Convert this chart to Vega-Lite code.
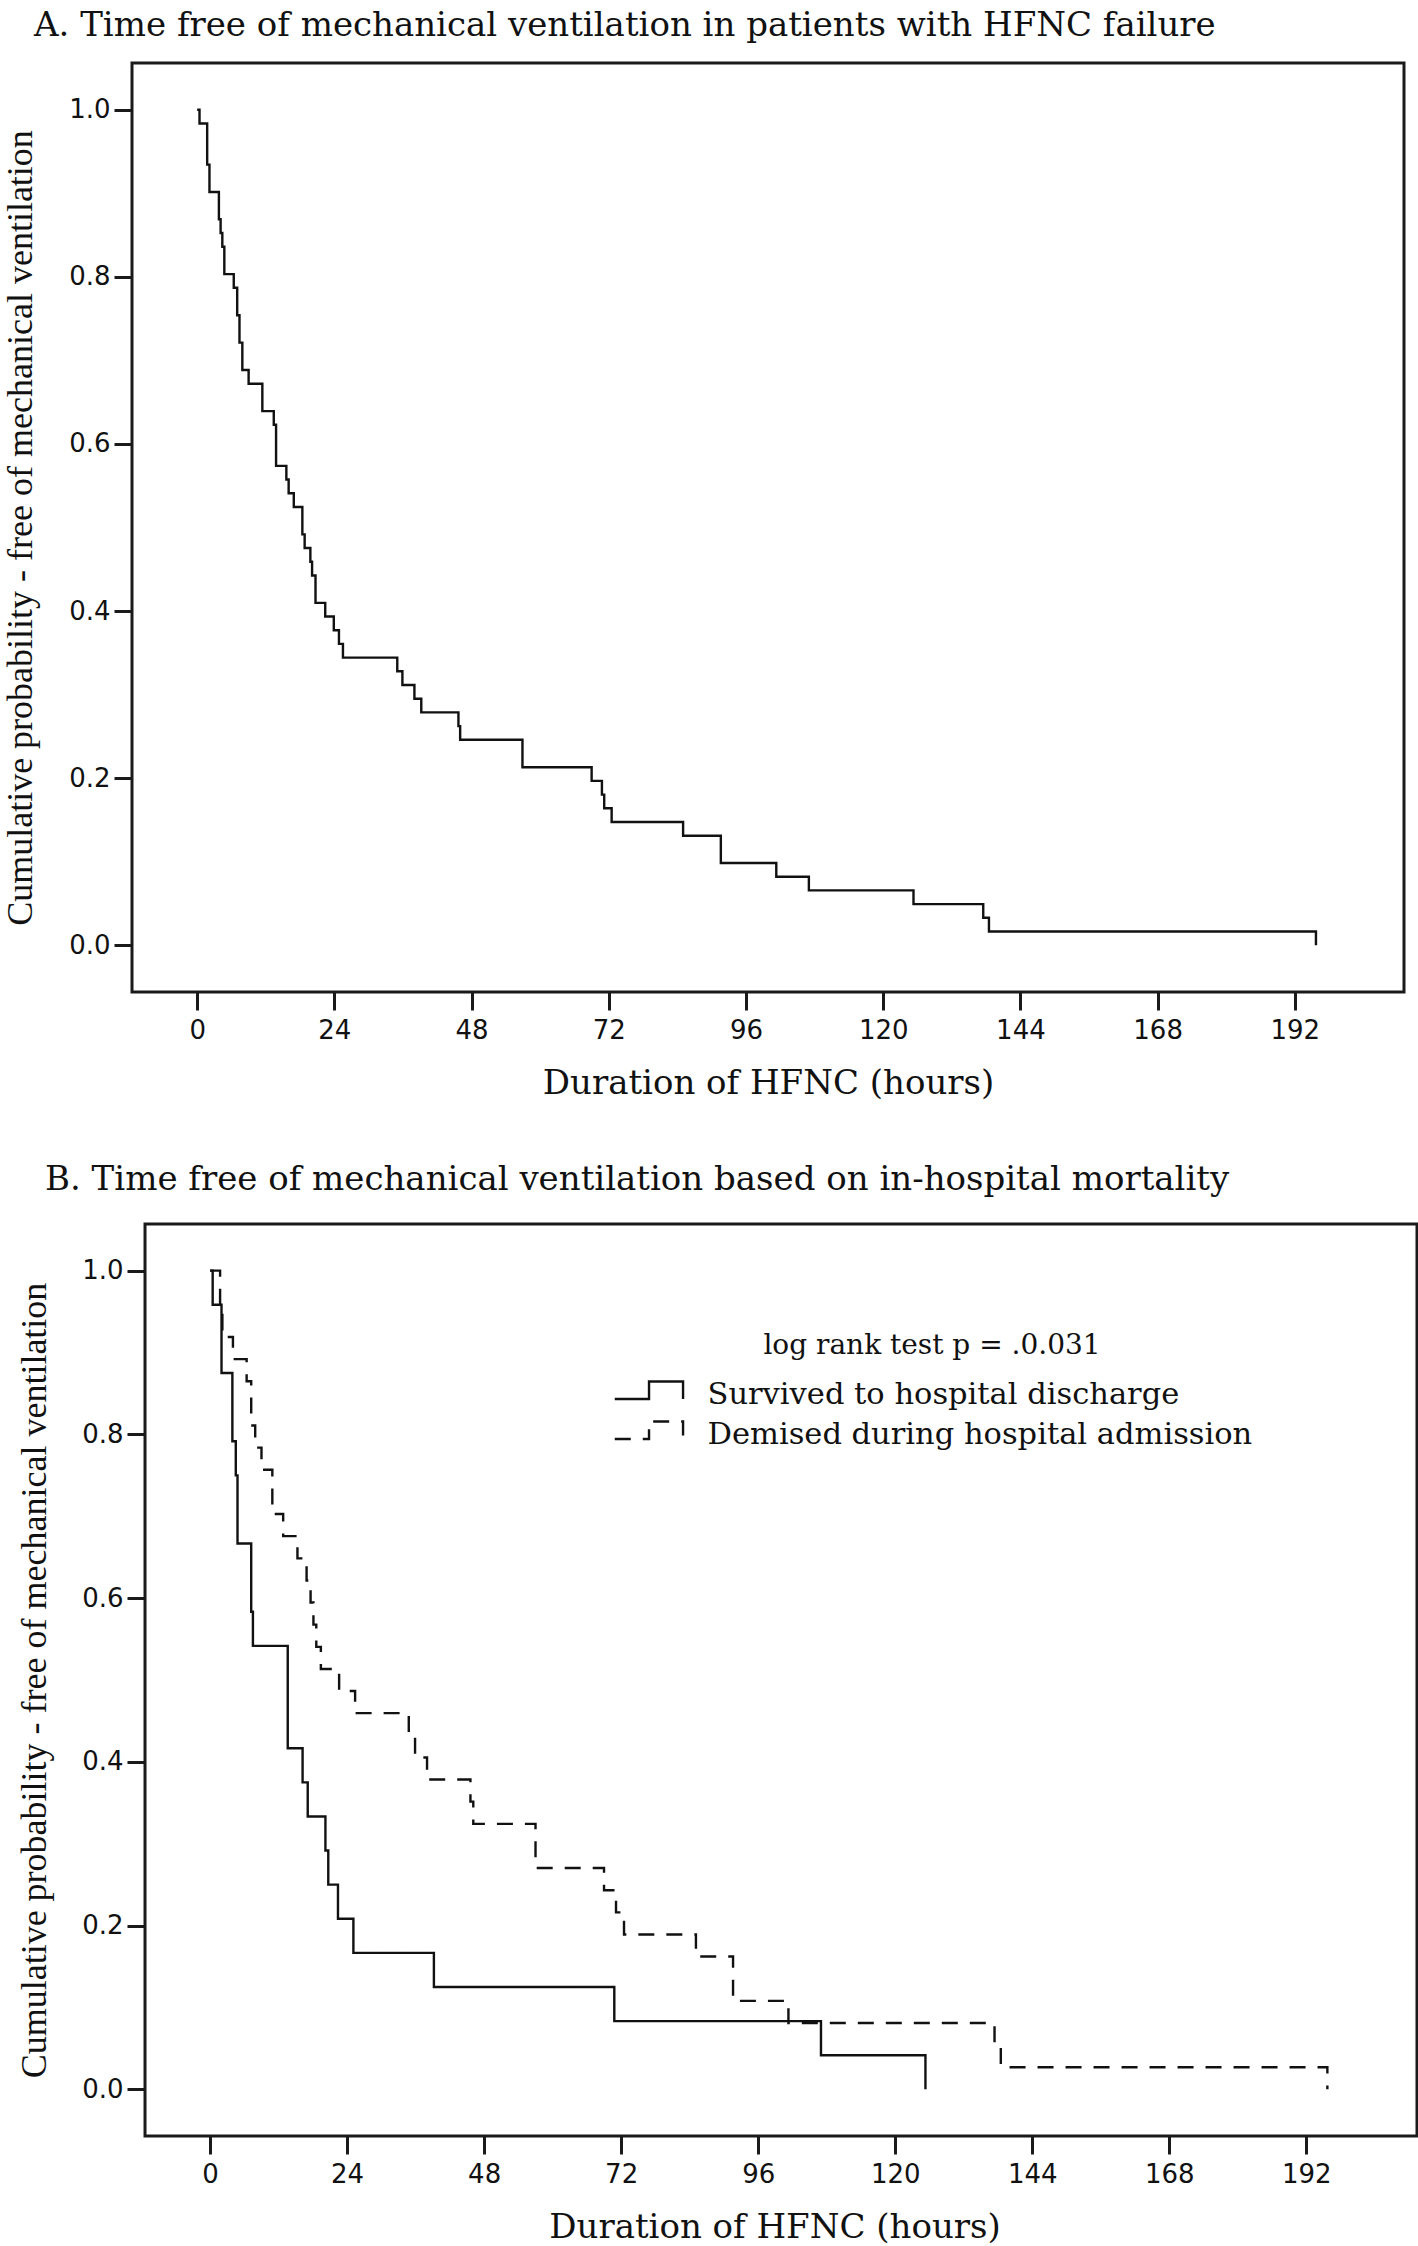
{
  "$schema": "https://vega.github.io/schema/vega-lite/v6.json",
  "background": "white",
  "padding": {"left": 1, "top": 7, "right": 0, "bottom": 0},
  "autosize": {"type": "pad"},
  "config": {
    "view": {"stroke": "#1a1a1a", "strokeWidth": 3},
    "axis": {
      "domain": false, "grid": false,
      "tickSize": 18, "tickWidth": 3, "tickColor": "#1a1a1a",
      "labelFont": "DejaVu Sans", "labelFontSize": 26, "labelColor": "#111",
      "titleFont": "DejaVu Serif", "titleFontWeight": "normal", "titleColor": "#111"
    },
    "axisX": {"labelPadding": 7, "titleFontSize": 34, "titlePadding": 23},
    "axisY": {"labelPadding": 4, "titleFont": "Liberation Serif", "titleFontSize": 36},
    "title": {"font": "DejaVu Serif", "fontSize": 34, "fontWeight": "normal", "color": "#111", "anchor": "start", "frame": "group", "baseline": "alphabetic"}
  },
  "datasets": {
    "a": [
      {"t": 0, "s": 1.0}, {"t": 0.41, "s": 0.9836}, {"t": 1.75, "s": 0.9344}, {"t": 2.15, "s": 0.9016},
      {"t": 3.8, "s": 0.8689}, {"t": 4.1, "s": 0.8525}, {"t": 4.4, "s": 0.8361}, {"t": 4.75, "s": 0.8033},
      {"t": 6.4, "s": 0.7869}, {"t": 7.0, "s": 0.7541}, {"t": 7.4, "s": 0.7213}, {"t": 7.9, "s": 0.6885},
      {"t": 9.0, "s": 0.6721}, {"t": 11.4, "s": 0.6393}, {"t": 13.4, "s": 0.623}, {"t": 13.8, "s": 0.5738},
      {"t": 15.6, "s": 0.5574}, {"t": 16.0, "s": 0.541}, {"t": 16.9, "s": 0.5246}, {"t": 18.4, "s": 0.4918},
      {"t": 18.8, "s": 0.4754}, {"t": 19.8, "s": 0.459}, {"t": 20.1, "s": 0.4426}, {"t": 20.7, "s": 0.4098},
      {"t": 22.4, "s": 0.3934}, {"t": 23.9, "s": 0.377}, {"t": 24.8, "s": 0.3607}, {"t": 25.5, "s": 0.3443},
      {"t": 35.0, "s": 0.3279}, {"t": 35.9, "s": 0.3115}, {"t": 38.0, "s": 0.2951}, {"t": 39.2, "s": 0.2787},
      {"t": 45.7, "s": 0.2623}, {"t": 46.0, "s": 0.2459}, {"t": 56.9, "s": 0.2131}, {"t": 69.0, "s": 0.1967},
      {"t": 70.8, "s": 0.1803}, {"t": 71.2, "s": 0.1639}, {"t": 72.5, "s": 0.1475}, {"t": 85.0, "s": 0.1311},
      {"t": 91.6, "s": 0.0984}, {"t": 101.3, "s": 0.082}, {"t": 107.0, "s": 0.0656}, {"t": 125.3, "s": 0.0492},
      {"t": 137.5, "s": 0.0328}, {"t": 138.5, "s": 0.0164}, {"t": 195.7, "s": 0.0}
    ],
    "b": [
      {"group": "Survived to hospital discharge", "t": 0, "s": 1.0},
      {"group": "Survived to hospital discharge", "t": 0.45, "s": 0.9583},
      {"group": "Survived to hospital discharge", "t": 2.0, "s": 0.875},
      {"group": "Survived to hospital discharge", "t": 3.9, "s": 0.7917},
      {"group": "Survived to hospital discharge", "t": 4.5, "s": 0.75},
      {"group": "Survived to hospital discharge", "t": 4.8, "s": 0.6667},
      {"group": "Survived to hospital discharge", "t": 7.2, "s": 0.5833},
      {"group": "Survived to hospital discharge", "t": 7.5, "s": 0.5417},
      {"group": "Survived to hospital discharge", "t": 13.6, "s": 0.4167},
      {"group": "Survived to hospital discharge", "t": 16.2, "s": 0.375},
      {"group": "Survived to hospital discharge", "t": 17.1, "s": 0.3333},
      {"group": "Survived to hospital discharge", "t": 20.2, "s": 0.2917},
      {"group": "Survived to hospital discharge", "t": 20.7, "s": 0.25},
      {"group": "Survived to hospital discharge", "t": 22.4, "s": 0.2083},
      {"group": "Survived to hospital discharge", "t": 25.1, "s": 0.1667},
      {"group": "Survived to hospital discharge", "t": 39.2, "s": 0.125},
      {"group": "Survived to hospital discharge", "t": 70.8, "s": 0.0833},
      {"group": "Survived to hospital discharge", "t": 107.0, "s": 0.0417},
      {"group": "Survived to hospital discharge", "t": 125.3, "s": 0.0},
      {"group": "Demised during hospital admission", "t": 0, "s": 1.0},
      {"group": "Demised during hospital admission", "t": 1.75, "s": 0.9459},
      {"group": "Demised during hospital admission", "t": 2.15, "s": 0.9189},
      {"group": "Demised during hospital admission", "t": 4.0, "s": 0.8919},
      {"group": "Demised during hospital admission", "t": 6.4, "s": 0.8649},
      {"group": "Demised during hospital admission", "t": 7.2, "s": 0.8108},
      {"group": "Demised during hospital admission", "t": 7.9, "s": 0.7838},
      {"group": "Demised during hospital admission", "t": 9.0, "s": 0.7568},
      {"group": "Demised during hospital admission", "t": 10.9, "s": 0.7027},
      {"group": "Demised during hospital admission", "t": 12.8, "s": 0.6757},
      {"group": "Demised during hospital admission", "t": 15.3, "s": 0.6486},
      {"group": "Demised during hospital admission", "t": 16.9, "s": 0.6216},
      {"group": "Demised during hospital admission", "t": 17.6, "s": 0.5946},
      {"group": "Demised during hospital admission", "t": 18.1, "s": 0.5676},
      {"group": "Demised during hospital admission", "t": 18.6, "s": 0.5405},
      {"group": "Demised during hospital admission", "t": 19.4, "s": 0.5135},
      {"group": "Demised during hospital admission", "t": 22.6, "s": 0.4865},
      {"group": "Demised during hospital admission", "t": 25.4, "s": 0.4595},
      {"group": "Demised during hospital admission", "t": 34.8, "s": 0.4324},
      {"group": "Demised during hospital admission", "t": 35.9, "s": 0.4054},
      {"group": "Demised during hospital admission", "t": 38.0, "s": 0.3784},
      {"group": "Demised during hospital admission", "t": 45.6, "s": 0.3514},
      {"group": "Demised during hospital admission", "t": 46.1, "s": 0.3243},
      {"group": "Demised during hospital admission", "t": 57.0, "s": 0.2703},
      {"group": "Demised during hospital admission", "t": 69.0, "s": 0.2432},
      {"group": "Demised during hospital admission", "t": 71.1, "s": 0.2162},
      {"group": "Demised during hospital admission", "t": 72.5, "s": 0.1892},
      {"group": "Demised during hospital admission", "t": 85.1, "s": 0.1622},
      {"group": "Demised during hospital admission", "t": 91.6, "s": 0.1081},
      {"group": "Demised during hospital admission", "t": 101.3, "s": 0.0811},
      {"group": "Demised during hospital admission", "t": 137.4, "s": 0.0541},
      {"group": "Demised during hospital admission", "t": 138.5, "s": 0.027},
      {"group": "Demised during hospital admission", "t": 195.7, "s": 0.0}
    ]
  },
  "vconcat": [
    {
      "width": 1272, "height": 929,
      "title": {"text": "A. Time free of mechanical ventilation in patients with HFNC failure", "dx": -98, "offset": 20},
      "data": {"name": "a"},
      "mark": {"type": "line", "interpolate": "step-after", "color": "#111", "strokeWidth": 2.4},
      "encoding": {
        "x": {"field": "t", "type": "quantitative",
              "scale": {"domain": [-11.4, 211.1], "nice": false, "zero": false},
              "axis": {"values": [0, 24, 48, 72, 96, 120, 144, 168, 192], "title": "Duration of HFNC (hours)"}},
        "y": {"field": "s", "type": "quantitative",
              "scale": {"domain": [-0.056, 1.056], "nice": false, "zero": false},
              "axis": {"values": [0, 0.2, 0.4, 0.6, 0.8, 1.0], "format": ".1f", "titlePadding": 29,
                       "title": "Cumulative probability - free of mechanical ventilation"}}
      }
    },
    {
      "width": 1285, "height": 912,
      "view": {"stroke": null},
      "title": {"text": "B. Time free of mechanical ventilation based on in-hospital mortality", "dx": -87, "offset": 26},
      "layer": [
        {
          "data": {"values": [{"frame": "plot border"}]},
          "mark": {"type": "rect", "fill": null, "fillOpacity": 0, "stroke": "#1a1a1a", "strokeWidth": 3},
          "encoding": {
            "x": {"datum": -11.4, "type": "quantitative"},
            "x2": {"datum": 211.4},
            "y": {"datum": -0.057, "type": "quantitative"},
            "y2": {"datum": 1.057}
          }
        },
        {
          "data": {"name": "b"},
          "mark": {"type": "line", "interpolate": "step-after", "color": "#111", "strokeWidth": 2.4},
          "encoding": {
            "x": {"field": "t", "type": "quantitative"},
            "y": {"field": "s", "type": "quantitative"},
            "strokeDash": {"field": "group", "type": "nominal",
                  "scale": {"domain": ["Survived to hospital discharge", "Demised during hospital admission"], "range": [[1, 0], [16, 12]]},
                  "legend": {
                    "orient": "none", "legendX": 479, "legendY": 108, "padding": 0,
                    "title": "log rank test p = .0.031",
                    "titleFont": "DejaVu Serif", "titleFontSize": 28, "titleFontWeight": "normal", "titleColor": "#111",
                    "titleAnchor": "middle", "titleLimit": 2000, "titlePadding": 20,
                    "labelFont": "DejaVu Serif", "labelFontSize": 30.5, "labelColor": "#111", "labelLimit": 2000, "labelOffset": 66,
                    "symbolType": "M-1,0.33H1.98V-1.2H4.94V0.33", "symbolSize": 529,
                    "symbolStrokeColor": "#111", "symbolStrokeWidth": 2.4, "symbolFillColor": "transparent",
                    "rowPadding": 5
                  }}
          }
        }
      ],
      "encoding": {
        "x": {"type": "quantitative",
              "scale": {"domain": [-13.68, 211.4], "nice": false, "zero": false},
              "axis": {"values": [0, 24, 48, 72, 96, 120, 144, 168, 192], "title": "Duration of HFNC (hours)"}},
        "y": {"type": "quantitative",
              "scale": {"domain": [-0.057, 1.057], "nice": false, "zero": false},
              "axis": {"values": [0, 0.2, 0.4, 0.6, 0.8, 1.0], "format": ".1f", "offset": -13, "titlePadding": 28,
                       "title": "Cumulative probability - free of mechanical ventilation"}}
      }
    }
  ],
  "resolve": {"legend": {"strokeDash": "independent"}},
  "spacing": 60
}
